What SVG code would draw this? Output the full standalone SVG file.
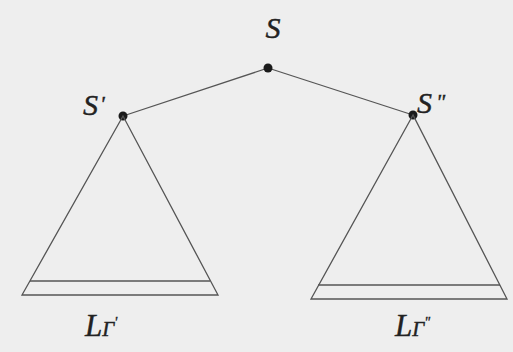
<svg xmlns="http://www.w3.org/2000/svg" width="513" height="352" viewBox="0 0 513 352">
<style>
.ln{stroke:#555;stroke-width:1.3;fill:none}
.dot{fill:#1a1a1a}
.lb{font-family:"Liberation Serif",serif;font-style:italic;fill:#222;stroke:#222;stroke-width:0.4}
</style>
<rect width="513" height="352" fill="#eeeeee"/>
<g id="connectors">
<line class="ln" x1="268" y1="68" x2="123" y2="116"/>
<line class="ln" x1="268" y1="68" x2="413" y2="115"/>
</g>
<g id="S">
<circle class="dot" cx="268" cy="68" r="4.5"/>
<text class="lb" x="273" y="38" font-size="30" text-anchor="middle">S</text>
</g>
<g id="S1">
<circle class="dot" cx="123" cy="116" r="4.5"/>
<text class="lb" x="83" y="115" font-size="30">S<tspan font-size="22" dx="2" dy="-4">'</tspan></text>
</g>
<g id="S2">
<circle class="dot" cx="413" cy="115" r="4.5"/>
<text class="lb" x="417" y="113" font-size="30">S<tspan font-size="22" dx="4" dy="-4">"</tspan></text>
</g>
<g id="T1">
<polygon class="ln" points="123,116 22,295 218,295"/>
<line class="ln" x1="30" y1="281" x2="210" y2="281"/>
<text class="lb" x="85" y="336" font-size="31">L<tspan font-size="21">Γ</tspan><tspan font-size="14" dy="-9">'</tspan></text>
</g>
<g id="T2">
<polygon class="ln" points="413,115 311,299 507,299"/>
<line class="ln" x1="318" y1="285" x2="500" y2="285"/>
<text class="lb" x="395" y="336" font-size="31">L<tspan font-size="21">Γ</tspan><tspan font-size="14" dy="-9">"</tspan></text>
</g>
</svg>
